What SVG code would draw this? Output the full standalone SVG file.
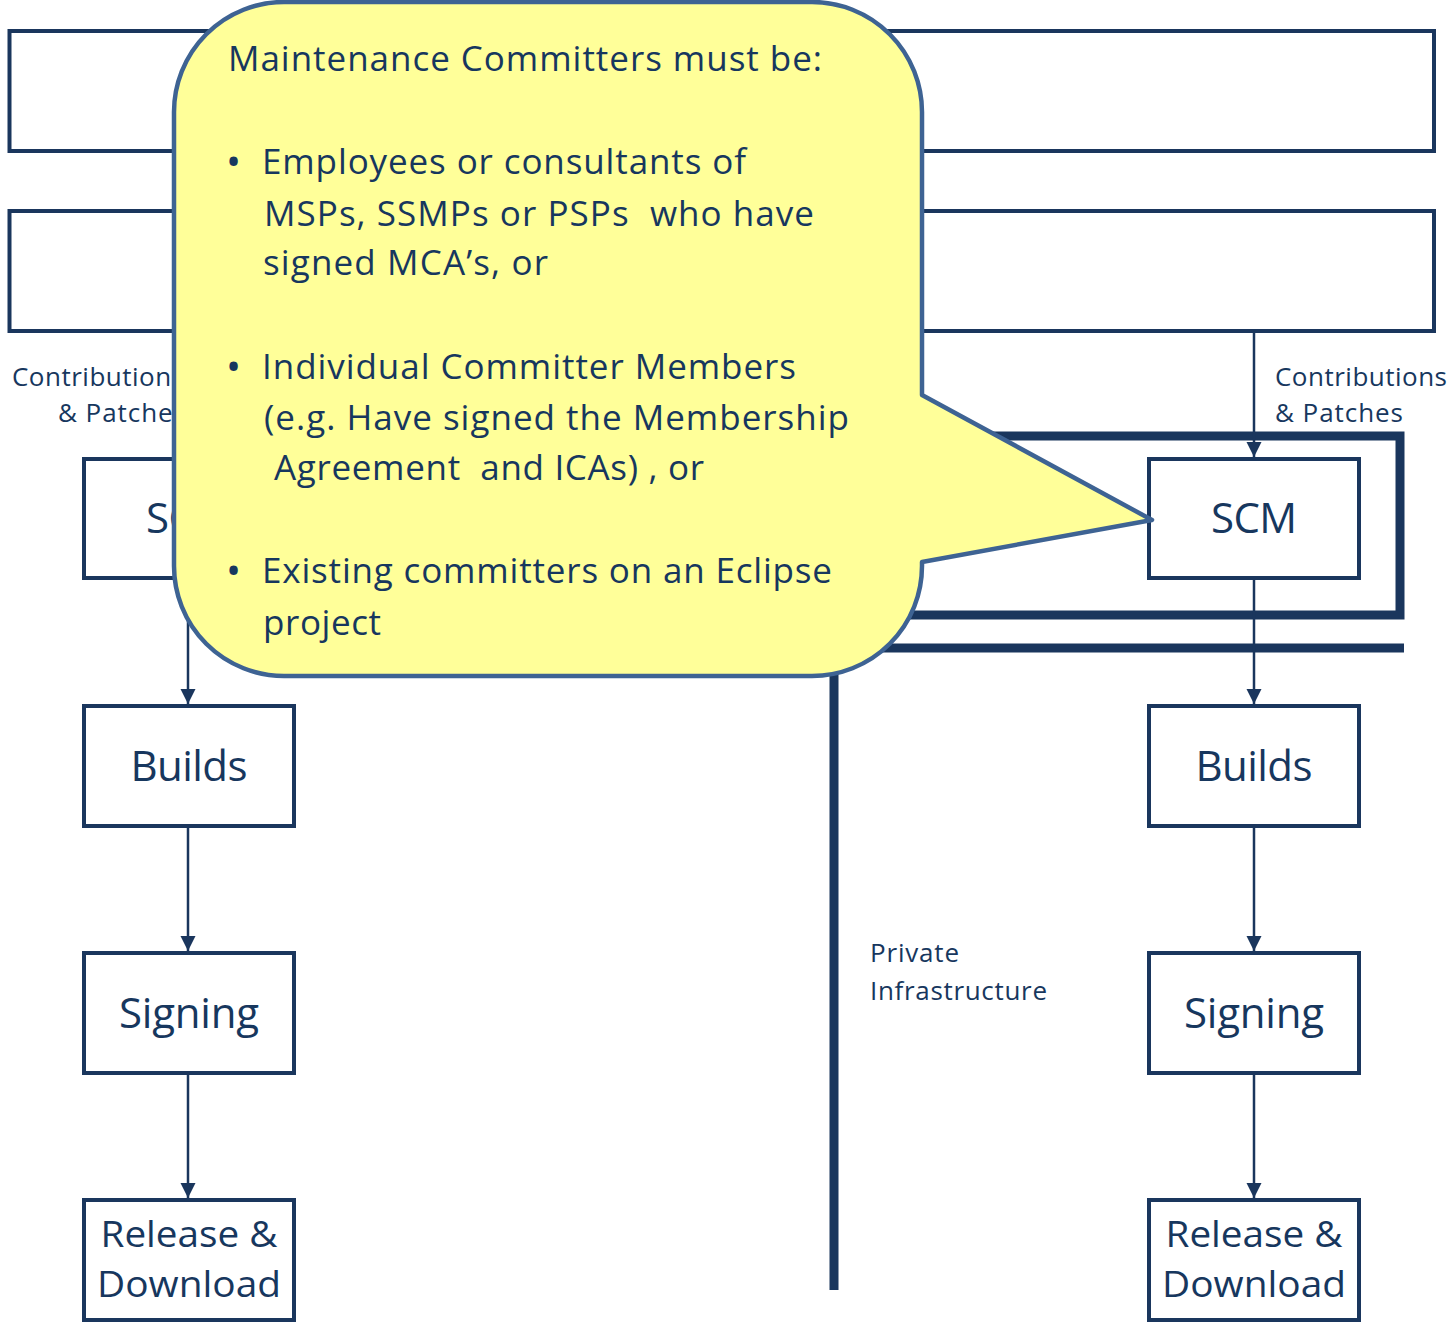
<svg xmlns="http://www.w3.org/2000/svg" width="1452" height="1323" viewBox="0 0 1452 1323">
<style>
.box{fill:#fff;stroke:#1a365d;stroke-width:4}
.lbl{font-family:"Open Sans","Liberation Sans",sans-serif;font-size:42px;fill:#17375e;text-anchor:middle}
.rl{font-size:36px}
.sm{font-family:"Open Sans","Liberation Sans",sans-serif;font-size:26px;fill:#17375e}
.co{font-family:"Open Sans","Liberation Sans",sans-serif;font-size:35px;fill:#17375e}
.bu{font-family:"Open Sans","Liberation Sans",sans-serif;font-size:40px;fill:#17375e}
.conn{stroke:#1a365d;stroke-width:2.5;fill:none;marker-end:url(#ah)}
.thick{stroke:#1a365d;stroke-width:9;fill:none}
</style>
<defs>
<marker id="ah" markerUnits="userSpaceOnUse" markerWidth="16" markerHeight="16" refX="15" refY="7.5" orient="auto">
<path d="M0,0 L15,7.5 L0,15 z" fill="#1a365d"/>
</marker>
</defs>
<g id="top1"><rect class="box" x="9.5" y="31" width="1424.5" height="120"/></g>
<g id="top2"><rect class="box" x="9.5" y="211" width="1424.5" height="120"/></g>
<g id="infra">
<rect class="thick" x="560" y="436" width="840" height="179"/>
<path class="thick" d="M1404,648 H834 V1290"/>
<text class="sm" x="870" y="962" textLength="89">Private</text>
<text class="sm" x="870" y="1000" textLength="177">Infrastructure</text>
</g>
<g id="connectors">
<line class="conn" x1="188" y1="333" x2="188" y2="457"/>
<line class="conn" x1="188" y1="580" x2="188" y2="704"/>
<line class="conn" x1="188" y1="828" x2="188" y2="951"/>
<line class="conn" x1="188" y1="1075" x2="188" y2="1198"/>
<line class="conn" x1="1254" y1="333" x2="1254" y2="457"/>
<line class="conn" x1="1254" y1="580" x2="1254" y2="704"/>
<line class="conn" x1="1254" y1="828" x2="1254" y2="951"/>
<line class="conn" x1="1254" y1="1075" x2="1254" y2="1198"/>
<text class="sm" x="184" y="386" text-anchor="end" textLength="172">Contributions</text>
<text class="sm" x="186" y="422" text-anchor="end" textLength="128">&amp; Patches</text>
<text class="sm" x="1275" y="386" textLength="172">Contributions</text>
<text class="sm" x="1275" y="422" textLength="128">&amp; Patches</text>
</g>
<g id="scm-l"><rect class="box" x="84" y="459" width="210" height="119"/><text class="lbl" x="189" y="533" textLength="86">SCM</text></g>
<g id="builds-l"><rect class="box" x="84" y="706" width="210" height="120"/><text class="lbl" x="189" y="781" textLength="117">Builds</text></g>
<g id="signing-l"><rect class="box" x="84" y="953" width="210" height="120"/><text class="lbl" x="189" y="1028" textLength="140">Signing</text></g>
<g id="release-l"><rect class="box" x="84" y="1200" width="210" height="120"/><text class="lbl rl" x="189" y="1247" textLength="177" lengthAdjust="spacingAndGlyphs">Release &amp;</text><text class="lbl rl" x="189" y="1297" textLength="184" lengthAdjust="spacingAndGlyphs">Download</text></g>
<g id="scm-r"><rect class="box" x="1149" y="459" width="210" height="119"/><text class="lbl" x="1254" y="533" textLength="86">SCM</text></g>
<g id="builds-r"><rect class="box" x="1149" y="706" width="210" height="120"/><text class="lbl" x="1254" y="781" textLength="117">Builds</text></g>
<g id="signing-r"><rect class="box" x="1149" y="953" width="210" height="120"/><text class="lbl" x="1254" y="1028" textLength="140">Signing</text></g>
<g id="release-r"><rect class="box" x="1149" y="1200" width="210" height="120"/><text class="lbl rl" x="1254" y="1247" textLength="177" lengthAdjust="spacingAndGlyphs">Release &amp;</text><text class="lbl rl" x="1254" y="1297" textLength="184" lengthAdjust="spacingAndGlyphs">Download</text></g>
<g id="callout">
<path d="M284,2 H812 A110,110 0 0 1 922,112 V395 L1152,520 L922,562 V566 A110,110 0 0 1 812,676 H284 A110,110 0 0 1 174,566 V112 A110,110 0 0 1 284,2 Z" fill="#ffff99" stroke="#3e6393" stroke-width="4.5" stroke-linejoin="round"/>
<text class="co" x="228" y="71" textLength="594">Maintenance Committers must be:</text>
<text class="bu" x="226" y="176">•</text>
<text class="co" x="262" y="174" textLength="484">Employees or consultants of</text>
<text class="co" x="264" y="226" textLength="550" xml:space="preserve">MSPs, SSMPs or PSPs  who have</text>
<text class="co" x="263" y="275" textLength="285">signed MCA’s, or</text>
<text class="bu" x="226" y="381">•</text>
<text class="co" x="262" y="379" textLength="534">Individual Committer Members</text>
<text class="co" x="264" y="430" textLength="585">(e.g. Have signed the Membership</text>
<text class="co" x="274" y="480" textLength="430" xml:space="preserve">Agreement  and ICAs) , or</text>
<text class="bu" x="226" y="585">•</text>
<text class="co" x="262" y="583" textLength="570">Existing committers on an Eclipse</text>
<text class="co" x="263" y="635" textLength="118">project</text>
</g>
</svg>
